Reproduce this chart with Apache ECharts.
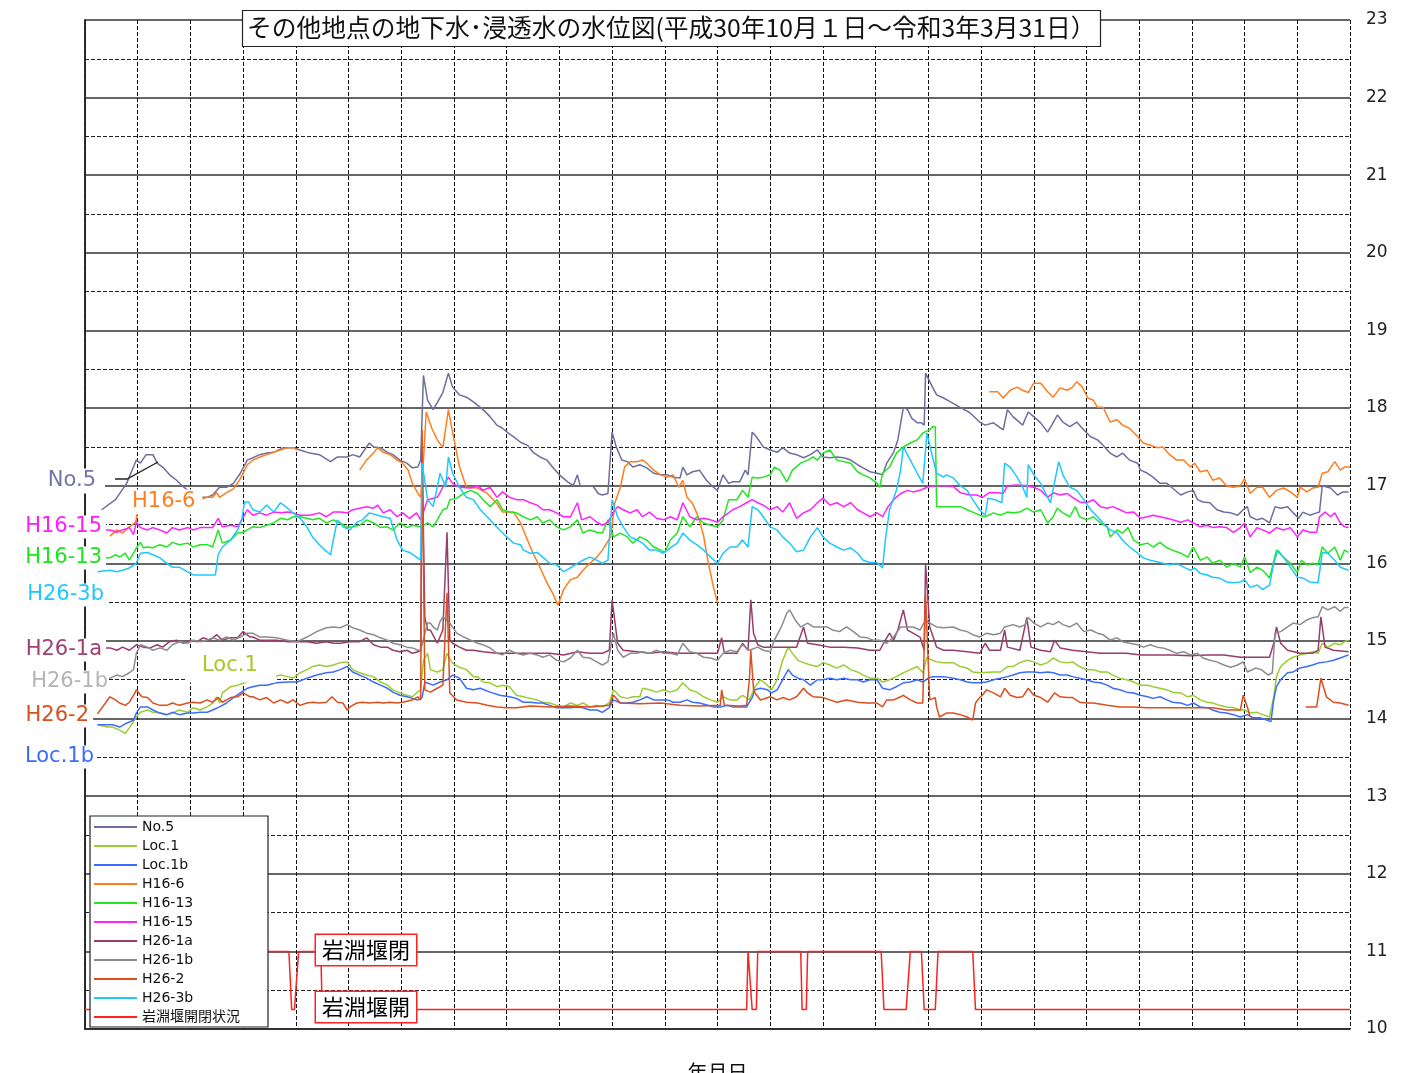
<!DOCTYPE html>
<html>
<head>
<meta charset="utf-8">
<script src="https://cdn.jsdelivr.net/npm/echarts@6/dist/echarts.min.js"></script>
<style>
html,body{margin:0;padding:0;background:#fff;}
#chart{width:1414px;height:1073px;}
</style>
</head>
<body>
<div id="chart"></div>
<script>
// ---- x: days since 2018-10-01 (H30.10.1) ... 912 = 2021-03-31 (R3.3.31) ----
const titleText = 'その他地点の地下水･浸透水の水位図(平成30年10月１日～令和3年3月31日）';
const seriesNames = ['No.5','Loc.1','Loc.1b','H16-6','H16-13','H16-15','H26-1a','H26-1b','H26-2','H26-3b','岩淵堰開閉状況'];
const yTicks = [10,11,12,13,14,15,16,17,18,19,20,21,22,23];

const no5 = [[12,16.69],[22,16.82],[30,17.03],[37,17.33],[40,17.29],[44,17.40],[49,17.40],[52,17.29],[56,17.24],[61,17.14],[66,17.07],[70,17.00],[74,16.94],[78,16.85],[83,16.85],[88,16.85],[92,16.88],[97,16.98],[102,16.98],[107,17.03],[112,17.16],[117,17.33],[121,17.36],[126,17.40],[131,17.42],[136,17.43],[143,17.49],[150,17.49],[155,17.46],[162,17.42],[169,17.40],[177,17.31],[182,17.37],[189,17.37],[193,17.40],[198,17.37],[203,17.50],[205,17.55],[208,17.50],[213,17.49],[218,17.43],[222,17.40],[227,17.33],[232,17.29],[236,17.23],[240,17.24],[242,17.33],[244,18.42],[247,18.10],[251,17.98],[254,18.07],[258,18.20],[262,18.45],[265,18.27],[270,18.17],[275,18.14],[280,18.08],[285,18.01],[287,17.98],[292,17.89],[297,17.78],[301,17.74],[305,17.68],[309,17.63],[314,17.56],[319,17.52],[323,17.43],[328,17.37],[333,17.33],[337,17.24],[342,17.14],[348,17.05],[352,17.00],[355,17.14],[357,17.00],[362,17.00],[366,17.00],[370,16.90],[373,16.88],[377,16.90],[380,17.69],[383,17.50],[387,17.33],[391,17.31],[395,17.24],[400,17.27],[405,17.23],[410,17.16],[415,17.14],[420,17.14],[424,17.11],[429,17.10],[431,17.24],[434,17.14],[438,17.18],[443,17.20],[448,17.07],[453,16.98],[456,16.94],[460,17.14],[464,17.03],[467,17.05],[472,17.05],[476,17.20],[478,17.14],[481,17.69],[484,17.63],[489,17.50],[494,17.46],[499,17.43],[503,17.49],[508,17.42],[513,17.40],[518,17.36],[523,17.40],[528,17.46],[532,17.37],[537,17.36],[542,17.37],[547,17.36],[552,17.33],[557,17.27],[561,17.23],[566,17.18],[571,17.16],[575,17.14],[578,17.29],[583,17.43],[586,17.59],[590,18.01],[593,17.98],[596,17.87],[600,17.81],[603,17.81],[605,17.78],[606,18.45],[611,18.27],[614,18.17],[619,18.13],[624,18.08],[631,18.01],[638,17.94],[645,17.82],[649,17.78],[655,17.81],[662,17.72],[665,17.98],[669,17.89],[676,17.78],[680,17.95],[684,17.89],[689,17.81],[694,17.69],[697,17.78],[701,17.91],[705,17.82],[710,17.76],[715,17.82],[720,17.72],[725,17.63],[730,17.59],[734,17.52],[739,17.42],[744,17.37],[748,17.42],[753,17.33],[759,17.29],[761,17.20],[766,17.16],[770,17.11],[775,17.03],[780,17.03],[784,16.97],[790,16.88],[795,16.92],[799,16.94],[802,16.82],[806,16.79],[811,16.78],[816,16.69],[821,16.66],[826,16.65],[831,16.62],[835,16.69],[838,16.73],[840,16.60],[845,16.56],[849,16.58],[854,16.52],[858,16.73],[862,16.71],[867,16.73],[871,16.65],[875,16.58],[878,16.66],[883,16.62],[888,16.65],[890,16.66],[892,17.00],[898,16.97],[903,16.88],[907,16.92],[911,16.92]];

const loc1 = [[9,13.92],[16,13.89],[20,13.89],[25,13.85],[29,13.81],[32,13.88],[37,14.02],[40,14.08],[45,14.11],[49,14.08],[54,14.07],[59,14.05],[63,14.07],[68,14.11],[74,14.08],[78,14.14],[83,14.11],[88,14.15],[92,14.20],[95,14.28],[97,14.20],[99,14.33],[105,14.41],[110,14.43],[118,14.48],[126,14.54],[131,14.56],[136,14.54],[141,14.56],[146,14.54],[150,14.52],[155,14.59],[160,14.63],[164,14.67],[169,14.69],[174,14.67],[179,14.69],[184,14.72],[189,14.73],[193,14.63],[198,14.59],[203,14.56],[208,14.54],[213,14.47],[218,14.43],[222,14.37],[227,14.33],[232,14.30],[236,14.28],[239,14.33],[242,14.37],[244,14.75],[247,14.84],[249,14.63],[254,14.60],[258,14.63],[261,14.84],[265,14.71],[270,14.66],[275,14.63],[280,14.54],[283,14.54],[287,14.47],[292,14.46],[297,14.41],[301,14.43],[306,14.41],[311,14.30],[316,14.28],[321,14.26],[326,14.24],[330,14.21],[335,14.20],[340,14.17],[345,14.15],[350,14.20],[355,14.17],[359,14.20],[364,14.15],[369,14.17],[373,14.15],[378,14.20],[381,14.37],[386,14.28],[391,14.26],[395,14.28],[400,14.28],[402,14.39],[407,14.37],[412,14.34],[417,14.37],[422,14.34],[427,14.37],[431,14.46],[436,14.37],[441,14.34],[446,14.28],[451,14.24],[456,14.21],[460,14.28],[465,14.24],[470,14.24],[474,14.30],[479,14.24],[483,14.41],[487,14.50],[492,14.43],[495,14.37],[499,14.50],[503,14.75],[507,14.92],[510,14.84],[514,14.75],[518,14.72],[523,14.69],[528,14.67],[532,14.72],[537,14.69],[542,14.65],[547,14.69],[552,14.63],[557,14.60],[561,14.56],[566,14.52],[571,14.52],[575,14.47],[580,14.50],[585,14.54],[590,14.59],[595,14.63],[600,14.67],[604,14.59],[607,14.79],[611,14.75],[614,14.73],[619,14.72],[626,14.72],[631,14.67],[636,14.65],[640,14.60],[645,14.59],[655,14.60],[660,14.60],[665,14.67],[669,14.67],[674,14.72],[679,14.75],[684,14.73],[689,14.69],[694,14.72],[698,14.78],[703,14.73],[708,14.72],[712,14.73],[717,14.67],[722,14.63],[727,14.63],[732,14.60],[737,14.60],[741,14.56],[746,14.52],[751,14.50],[756,14.47],[761,14.43],[766,14.43],[770,14.41],[775,14.39],[780,14.37],[784,14.34],[790,14.33],[795,14.28],[799,14.30],[804,14.24],[809,14.21],[813,14.20],[818,14.17],[823,14.15],[828,14.14],[833,14.11],[836,14.11],[840,14.07],[845,14.08],[849,14.05],[854,14.02],[857,14.28],[859,14.54],[862,14.67],[867,14.75],[871,14.79],[876,14.82],[881,14.84],[885,14.86],[889,14.84],[892,14.97],[896,14.92],[901,14.97],[905,14.95],[908,14.99],[911,15.01]];

const loc1b = [[9,13.92],[16,13.92],[20,13.92],[25,13.89],[30,13.94],[35,13.98],[37,14.07],[40,14.15],[45,14.15],[49,14.11],[54,14.07],[59,14.05],[63,14.08],[68,14.05],[74,14.07],[78,14.07],[83,14.08],[88,14.08],[92,14.11],[97,14.15],[102,14.20],[107,14.27],[112,14.33],[117,14.39],[121,14.41],[126,14.43],[131,14.43],[138,14.46],[146,14.47],[153,14.47],[160,14.52],[167,14.56],[174,14.59],[179,14.60],[184,14.63],[189,14.67],[193,14.60],[198,14.56],[203,14.52],[208,14.47],[213,14.43],[218,14.39],[222,14.34],[227,14.30],[232,14.28],[236,14.26],[240,14.24],[243,14.27],[245,14.47],[251,14.43],[256,14.47],[261,14.50],[265,14.56],[270,14.52],[275,14.39],[280,14.37],[285,14.39],[292,14.34],[299,14.30],[306,14.28],[311,14.26],[316,14.21],[321,14.21],[326,14.20],[330,14.20],[335,14.17],[340,14.14],[345,14.14],[350,14.14],[355,14.15],[359,14.14],[364,14.11],[369,14.11],[373,14.08],[378,14.14],[381,14.24],[386,14.20],[391,14.20],[395,14.21],[400,14.24],[405,14.28],[410,14.24],[415,14.24],[420,14.24],[424,14.21],[429,14.21],[434,14.24],[438,14.21],[443,14.20],[449,14.17],[453,14.15],[458,14.15],[463,14.17],[467,14.15],[472,14.15],[477,14.15],[481,14.27],[483,14.37],[487,14.39],[492,14.37],[495,14.33],[499,14.37],[503,14.50],[507,14.63],[510,14.56],[514,14.52],[518,14.50],[523,14.43],[528,14.50],[532,14.50],[537,14.52],[542,14.50],[547,14.52],[552,14.50],[557,14.50],[561,14.47],[566,14.50],[571,14.50],[575,14.39],[580,14.37],[585,14.41],[590,14.46],[595,14.47],[600,14.50],[604,14.47],[608,14.52],[611,14.54],[619,14.54],[626,14.52],[631,14.50],[636,14.47],[640,14.46],[645,14.46],[650,14.47],[655,14.50],[660,14.52],[665,14.54],[669,14.56],[674,14.59],[679,14.60],[684,14.60],[689,14.59],[694,14.60],[698,14.59],[703,14.56],[708,14.56],[712,14.54],[717,14.52],[722,14.50],[727,14.47],[732,14.46],[737,14.43],[741,14.39],[746,14.37],[751,14.34],[756,14.33],[761,14.30],[766,14.28],[770,14.26],[775,14.28],[780,14.24],[784,14.21],[790,14.20],[795,14.17],[799,14.20],[804,14.15],[809,14.14],[813,14.11],[818,14.08],[823,14.07],[828,14.05],[833,14.02],[838,14.05],[842,14.01],[847,14.01],[852,13.98],[855,13.96],[857,14.24],[859,14.41],[862,14.50],[867,14.59],[871,14.60],[876,14.65],[881,14.67],[885,14.69],[890,14.72],[895,14.73],[900,14.75],[905,14.78],[911,14.82]];

const h16_6 = [[18,16.35],[23,16.43],[27,16.39],[32,16.47],[36,16.52],[37,16.56],[38,16.80],[76,16.82],[78,16.82],[83,16.82],[88,16.85],[92,16.85],[95,16.91],[97,16.85],[102,16.91],[107,16.96],[110,17.04],[112,17.09],[117,17.27],[121,17.33],[126,17.37],[131,17.40],[136,17.43],[141,17.46],[146,17.49],[150,17.49],[153,17.46],[175,null],[198,17.20],[203,17.33],[208,17.42],[211,17.49],[215,17.43],[220,17.40],[225,17.33],[229,17.29],[233,17.20],[236,17.03],[240,16.90],[242,16.85],[244,17.33],[246,17.95],[250,17.74],[254,17.59],[258,17.49],[262,17.98],[265,17.69],[270,17.24],[275,16.98],[283,16.97],[290,16.90],[297,16.77],[301,16.66],[309,16.66],[314,16.52],[319,16.30],[323,16.13],[328,15.95],[333,15.75],[337,15.62],[341,15.46],[345,15.66],[350,15.79],[355,15.82],[359,15.91],[364,16.00],[369,16.08],[373,16.17],[379,16.34],[382,16.78],[386,16.98],[389,17.24],[393,17.31],[398,17.31],[402,17.33],[405,17.29],[410,17.20],[415,17.14],[420,17.11],[424,17.14],[428,16.98],[431,17.07],[434,16.85],[438,16.77],[441,16.65],[443,16.56],[446,16.35],[449,16.04],[453,15.70],[456,15.49],[550,null],[652,18.21],[658,18.21],[662,18.13],[667,18.23],[672,18.27],[676,18.23],[680,18.20],[684,18.32],[689,18.32],[694,18.21],[698,18.14],[703,18.26],[708,18.23],[712,18.27],[715,18.34],[719,18.27],[723,18.13],[727,18.10],[730,18.01],[734,18.01],[739,17.82],[744,17.85],[748,17.78],[753,17.74],[759,17.63],[763,17.55],[768,17.52],[773,17.49],[777,17.50],[782,17.40],[787,17.33],[792,17.33],[797,17.24],[800,17.29],[804,17.18],[809,17.20],[813,17.07],[818,17.10],[823,17.00],[828,16.98],[833,17.00],[836,17.09],[840,16.90],[845,16.98],[849,16.98],[854,16.85],[859,16.94],[864,16.97],[869,16.92],[874,16.85],[876,16.98],[881,16.92],[885,16.97],[889,16.98],[892,17.16],[896,17.18],[901,17.31],[905,17.20],[908,17.24],[912,17.24]];

const h16_13 = [[11,16.07],[18,16.07],[22,16.11],[25,16.08],[29,16.13],[32,16.04],[35,16.13],[37,16.20],[40,16.27],[42,16.20],[45,16.21],[49,16.20],[54,16.24],[59,16.21],[63,16.27],[68,16.24],[74,16.26],[78,16.21],[83,16.24],[88,16.24],[92,16.21],[96,16.43],[99,16.26],[105,16.30],[110,16.39],[114,16.40],[117,16.43],[121,16.47],[126,16.46],[131,16.49],[136,16.52],[141,16.58],[146,16.56],[150,16.60],[155,16.60],[160,16.58],[164,16.56],[169,16.58],[174,16.52],[179,16.56],[184,16.52],[189,16.46],[193,16.47],[198,16.49],[203,16.56],[208,16.52],[213,16.46],[218,16.47],[222,16.43],[227,16.52],[232,16.46],[236,16.49],[242,16.47],[247,16.52],[251,16.47],[254,16.56],[258,16.69],[261,16.71],[263,16.82],[268,16.84],[273,16.90],[278,16.94],[283,16.90],[287,16.82],[292,16.73],[297,16.82],[301,16.69],[306,16.66],[311,16.65],[316,16.60],[321,16.56],[326,16.60],[330,16.52],[335,16.56],[340,16.47],[345,16.43],[350,16.47],[355,16.56],[359,16.39],[364,16.43],[369,16.40],[373,16.39],[377,16.56],[381,16.34],[386,16.39],[391,16.34],[395,16.26],[400,16.34],[405,16.30],[410,16.21],[415,16.17],[418,16.14],[422,16.30],[427,16.39],[431,16.60],[436,16.47],[441,16.60],[446,16.52],[451,16.49],[456,16.47],[460,16.56],[464,16.82],[470,16.82],[474,16.94],[478,16.85],[481,17.11],[485,17.10],[489,17.11],[494,17.14],[497,17.24],[501,17.20],[506,17.05],[510,17.20],[516,17.29],[521,17.33],[525,17.37],[528,17.33],[532,17.42],[537,17.46],[542,17.33],[547,17.31],[552,17.29],[557,17.18],[561,17.14],[566,17.10],[571,17.03],[573,16.98],[575,17.16],[580,17.24],[585,17.42],[590,17.50],[595,17.55],[600,17.59],[604,17.68],[609,17.72],[611,17.76],[613,17.76],[614,16.73],[619,16.73],[624,16.73],[631,16.73],[636,16.69],[640,16.66],[645,16.62],[649,16.60],[655,16.65],[660,16.62],[665,16.66],[669,16.65],[674,16.66],[679,16.71],[684,16.66],[689,16.69],[694,16.52],[698,16.60],[701,16.71],[705,16.65],[710,16.60],[714,16.73],[717,16.60],[722,16.56],[727,16.60],[732,16.52],[737,16.47],[739,16.34],[744,16.43],[748,16.39],[752,16.46],[756,16.30],[761,16.24],[766,16.26],[770,16.21],[775,16.27],[780,16.20],[784,16.17],[790,16.13],[795,16.08],[799,16.21],[804,16.04],[809,16.08],[813,16.00],[818,16.04],[823,15.95],[828,16.00],[833,15.95],[836,16.08],[840,15.88],[845,15.95],[849,15.91],[854,15.81],[859,16.17],[864,16.08],[869,16.00],[874,15.88],[877,16.04],[881,15.98],[885,16.00],[889,15.98],[892,16.21],[896,16.13],[901,16.21],[905,16.04],[908,16.17],[911,16.14]];

const h16_15 = [[11,16.43],[18,16.43],[23,16.40],[27,16.43],[32,16.46],[35,16.37],[37,16.53],[40,16.46],[45,16.43],[49,16.46],[54,16.43],[59,16.39],[63,16.46],[68,16.43],[74,16.46],[78,16.43],[83,16.46],[88,16.46],[92,16.46],[96,16.58],[99,16.47],[105,16.49],[110,16.47],[113,16.56],[117,16.69],[121,16.62],[126,16.65],[131,16.62],[136,16.66],[141,16.65],[146,16.66],[150,16.65],[155,16.62],[162,16.62],[169,16.65],[174,16.60],[179,16.66],[184,16.66],[189,16.65],[193,16.69],[198,16.71],[203,16.73],[208,16.71],[211,16.75],[215,16.65],[220,16.69],[225,16.60],[229,16.65],[234,16.58],[239,16.65],[242,16.56],[247,16.82],[254,16.85],[258,16.98],[262,17.11],[265,17.03],[270,16.98],[278,16.97],[283,17.00],[287,16.94],[292,16.98],[297,16.85],[301,16.92],[306,16.85],[311,16.82],[316,16.82],[321,16.78],[326,16.75],[330,16.69],[335,16.69],[340,16.65],[345,16.60],[350,16.60],[355,16.78],[358,16.56],[364,16.60],[369,16.53],[373,16.49],[377,16.53],[381,16.66],[384,16.73],[388,16.69],[393,16.65],[398,16.69],[402,16.60],[407,16.66],[412,16.58],[417,16.56],[422,16.60],[427,16.56],[431,16.78],[436,16.60],[441,16.56],[446,16.58],[451,16.56],[456,16.53],[460,16.60],[464,16.65],[467,16.69],[472,16.73],[477,16.78],[481,16.82],[485,16.78],[489,16.75],[494,16.69],[499,16.73],[503,16.66],[508,16.78],[513,16.58],[518,16.65],[523,16.69],[528,16.78],[532,16.84],[537,16.75],[542,16.78],[547,16.73],[552,16.78],[557,16.69],[561,16.65],[566,16.60],[571,16.65],[575,16.60],[579,16.73],[583,16.82],[588,16.90],[593,16.94],[597,16.92],[602,16.94],[607,16.98],[611,17.00],[619,17.00],[626,16.99],[631,16.91],[638,16.88],[643,16.88],[647,16.85],[652,16.91],[658,16.91],[662,16.90],[665,17.00],[672,17.01],[679,17.00],[684,16.98],[689,16.94],[694,16.85],[698,16.91],[703,16.88],[708,16.90],[712,16.85],[717,16.79],[722,16.78],[727,16.82],[732,16.73],[737,16.71],[741,16.73],[746,16.69],[751,16.65],[756,16.66],[761,16.58],[766,16.60],[770,16.62],[775,16.60],[780,16.58],[784,16.56],[790,16.53],[795,16.56],[799,16.52],[804,16.47],[809,16.49],[813,16.46],[818,16.47],[823,16.46],[828,16.40],[833,16.46],[836,16.52],[840,16.34],[845,16.46],[849,16.43],[854,16.39],[859,16.46],[864,16.43],[869,16.46],[874,16.34],[878,16.43],[883,16.40],[888,16.40],[890,16.60],[894,16.66],[898,16.60],[901,16.65],[905,16.52],[908,16.47],[911,16.46]];

const h26_1a = [[9,14.91],[18,14.91],[23,14.88],[27,14.92],[32,14.88],[37,14.95],[42,14.92],[47,14.91],[52,14.95],[56,14.92],[61,14.99],[66,15.01],[71,14.97],[76,15.01],[81,14.99],[85,15.04],[90,15.01],[95,15.08],[99,15.01],[105,15.04],[110,15.04],[114,15.12],[119,15.05],[121,15.05],[126,15.01],[131,15.01],[138,15.01],[146,14.99],[153,14.99],[160,14.99],[167,14.97],[174,14.99],[179,14.97],[184,14.97],[191,14.99],[198,14.99],[203,15.04],[208,14.95],[213,14.92],[218,14.92],[222,14.88],[227,14.86],[232,14.88],[236,14.84],[240,14.86],[242,14.88],[243,17.50],[245,15.30],[247,15.14],[249,15.14],[254,14.97],[258,15.14],[261,16.40],[263,15.01],[265,14.97],[270,14.92],[275,14.88],[280,14.88],[287,14.86],[297,14.84],[306,14.84],[316,14.84],[326,14.84],[335,14.84],[345,14.82],[355,14.86],[364,14.84],[373,14.84],[378,14.88],[380,15.53],[384,14.97],[388,14.88],[398,14.86],[407,14.84],[417,14.86],[427,14.84],[436,14.84],[446,14.84],[456,14.84],[459,15.04],[461,14.84],[470,14.84],[474,14.97],[478,14.88],[480,15.53],[482,15.10],[485,14.95],[489,14.92],[494,14.92],[503,14.92],[513,14.92],[518,15.18],[521,14.97],[528,14.95],[537,14.92],[547,14.92],[557,14.91],[566,14.88],[573,14.88],[577,15.01],[580,15.10],[583,15.01],[586,15.14],[590,15.40],[593,15.14],[597,15.10],[602,15.05],[605,14.88],[606,16.00],[609,15.18],[614,14.92],[619,14.88],[626,14.88],[636,14.86],[645,14.84],[649,14.97],[652,14.88],[660,14.88],[663,15.14],[665,14.92],[674,14.88],[679,15.30],[682,14.92],[689,14.88],[696,14.86],[699,15.01],[703,14.91],[712,14.88],[722,14.86],[732,14.84],[741,14.84],[751,14.84],[761,14.82],[773,14.82],[784,14.82],[797,14.81],[809,14.82],[821,14.82],[833,14.79],[845,14.79],[854,14.79],[857,14.97],[859,15.18],[862,14.97],[867,14.88],[876,14.84],[885,14.84],[889,14.88],[891,15.31],[894,14.92],[900,14.88],[911,14.86]];

const h26_1b = [[9,14.50],[18,14.52],[23,14.56],[27,14.54],[32,14.59],[35,14.63],[37,14.84],[40,14.95],[45,14.92],[49,14.88],[54,14.91],[59,14.88],[63,14.95],[68,14.99],[74,14.97],[78,15.01],[83,14.99],[88,15.01],[92,15.04],[97,15.01],[102,15.05],[107,15.01],[112,15.05],[117,15.10],[121,15.10],[126,15.05],[131,15.05],[138,15.04],[146,15.01],[153,14.99],[160,15.05],[167,15.12],[174,15.17],[179,15.18],[184,15.17],[189,15.21],[193,15.17],[198,15.14],[203,15.10],[208,15.08],[213,15.04],[218,15.01],[222,14.97],[227,14.95],[232,14.92],[236,14.91],[240,14.88],[242,14.88],[247,15.23],[249,15.23],[251,15.18],[254,15.14],[256,15.25],[258,15.31],[263,15.23],[268,15.10],[273,15.05],[278,15.01],[283,14.97],[287,14.95],[292,14.91],[297,14.84],[301,14.82],[306,14.88],[311,14.84],[316,14.82],[321,14.84],[326,14.82],[330,14.79],[335,14.82],[340,14.75],[345,14.73],[350,14.78],[355,14.88],[359,14.79],[364,14.78],[369,14.73],[373,14.69],[377,14.73],[381,15.10],[384,14.88],[388,14.79],[393,14.84],[398,14.84],[402,14.86],[407,14.84],[412,14.88],[417,14.84],[422,14.84],[427,14.82],[431,14.97],[436,14.86],[441,14.84],[446,14.79],[451,14.78],[456,14.75],[460,14.84],[465,14.88],[470,14.86],[474,14.95],[479,14.88],[485,14.92],[489,14.88],[494,14.86],[497,15.01],[502,15.18],[506,15.36],[508,15.40],[512,15.27],[516,15.18],[521,15.23],[525,15.18],[530,15.18],[535,15.18],[539,15.14],[544,15.12],[549,15.18],[554,15.12],[559,15.05],[564,15.04],[568,15.01],[573,15.01],[578,14.97],[583,15.05],[588,15.18],[593,15.18],[597,15.18],[602,15.14],[606,15.27],[609,15.23],[614,15.18],[619,15.17],[626,15.18],[631,15.14],[636,15.12],[640,15.08],[645,15.05],[650,15.10],[655,15.08],[660,15.10],[663,15.18],[669,15.21],[674,15.18],[678,15.21],[680,15.30],[684,15.23],[689,15.18],[694,15.23],[698,15.21],[702,15.25],[705,15.21],[710,15.18],[715,15.23],[720,15.12],[725,15.14],[730,15.10],[734,15.08],[739,15.01],[744,15.04],[748,14.99],[753,14.97],[759,14.95],[763,14.92],[768,14.95],[773,14.92],[777,14.91],[782,14.88],[787,14.84],[792,14.86],[797,14.82],[802,14.84],[806,14.78],[811,14.75],[816,14.73],[821,14.69],[826,14.66],[831,14.69],[835,14.73],[838,14.60],[844,14.65],[848,14.63],[853,14.56],[856,14.59],[858,15.10],[862,15.12],[867,15.18],[871,15.23],[876,15.21],[881,15.27],[885,15.30],[889,15.31],[892,15.44],[896,15.40],[901,15.44],[905,15.38],[908,15.43],[911,15.43]];

const h26_2 = [[9,14.06],[18,14.28],[22,14.24],[25,14.20],[29,14.17],[32,14.21],[36,14.33],[37,14.37],[41,14.28],[45,14.27],[49,14.20],[54,14.17],[59,14.17],[63,14.20],[68,14.17],[74,14.20],[78,14.21],[83,14.20],[88,14.24],[92,14.21],[96,14.27],[99,14.21],[105,14.27],[110,14.28],[114,14.33],[119,14.28],[121,14.28],[126,14.24],[131,14.27],[136,14.20],[141,14.24],[146,14.20],[150,14.24],[155,14.17],[160,14.20],[164,14.21],[169,14.20],[174,14.21],[178,14.28],[182,14.21],[186,14.20],[189,14.11],[191,14.15],[196,14.20],[200,14.21],[205,14.20],[211,14.21],[215,14.20],[220,14.21],[225,14.20],[229,14.21],[236,14.24],[240,14.28],[242,14.24],[243,17.72],[245,14.37],[249,14.34],[254,14.39],[258,14.43],[261,15.62],[263,14.33],[268,14.24],[275,14.21],[283,14.20],[290,14.17],[297,14.15],[304,14.14],[311,14.14],[321,14.16],[335,14.15],[350,14.16],[364,14.15],[378,14.17],[381,14.30],[386,14.20],[400,14.19],[415,14.20],[429,14.17],[443,14.16],[458,14.17],[459,14.37],[461,14.17],[472,14.16],[477,14.17],[479,14.50],[480,14.88],[482,14.37],[483,14.33],[487,14.24],[494,14.28],[499,14.24],[503,14.27],[508,14.24],[513,14.28],[518,14.39],[521,14.33],[525,14.28],[532,14.27],[537,14.24],[542,14.21],[549,14.24],[557,14.21],[564,14.20],[571,14.20],[575,14.15],[578,14.24],[583,14.24],[588,14.28],[590,14.30],[595,14.24],[600,14.20],[604,14.20],[606,15.60],[609,14.24],[613,14.27],[614,14.15],[616,14.02],[621,14.07],[626,14.07],[631,14.05],[636,14.02],[640,13.98],[642,14.20],[645,14.27],[647,14.30],[650,14.37],[655,14.33],[660,14.28],[663,14.39],[667,14.30],[672,14.27],[676,14.28],[680,14.39],[684,14.30],[689,14.27],[694,14.21],[699,14.33],[703,14.28],[708,14.27],[712,14.27],[717,14.21],[722,14.20],[727,14.20],[737,14.17],[746,14.15],[756,14.15],[766,14.14],[775,14.14],[784,14.14],[795,14.14],[804,14.14],[813,14.14],[823,14.11],[833,14.11],[835,14.30],[838,14.15],[840,14.02],[860,null],[880,14.15],[888,14.15],[891,14.52],[895,14.28],[900,14.21],[905,14.20],[911,14.17]];

const h26_3b = [[9,15.89],[18,15.91],[23,15.89],[27,15.91],[32,15.94],[37,16.00],[40,16.13],[45,16.14],[49,16.11],[54,16.07],[59,16.00],[63,15.95],[68,15.95],[74,15.89],[78,15.85],[83,15.85],[88,15.85],[94,15.85],[96,16.11],[99,16.21],[105,16.30],[110,16.43],[113,16.56],[115,16.79],[118,16.79],[121,16.69],[126,16.66],[131,16.75],[136,16.66],[141,16.78],[146,16.71],[150,16.65],[155,16.58],[160,16.47],[164,16.34],[169,16.24],[173,16.17],[177,16.11],[179,16.30],[182,16.56],[186,16.47],[191,16.43],[196,16.53],[200,16.56],[205,16.65],[211,16.62],[215,16.60],[220,16.58],[225,16.30],[229,16.17],[234,16.14],[239,16.08],[242,16.04],[243,17.29],[247,16.82],[251,16.73],[256,17.16],[260,16.98],[262,17.37],[265,17.16],[270,16.98],[275,16.85],[280,16.82],[285,16.69],[290,16.60],[294,16.52],[299,16.43],[304,16.34],[309,16.26],[314,16.24],[316,16.17],[321,16.13],[326,16.14],[330,16.08],[335,16.00],[340,15.98],[345,15.89],[350,15.94],[355,16.00],[359,16.04],[364,16.08],[369,16.04],[373,16.00],[377,16.04],[380,16.82],[384,16.60],[388,16.47],[393,16.34],[398,16.30],[402,16.26],[407,16.17],[412,16.17],[417,16.13],[422,16.20],[427,16.26],[431,16.39],[436,16.30],[441,16.24],[446,16.17],[451,16.08],[456,16.00],[460,16.13],[465,16.21],[470,16.21],[474,16.30],[478,16.21],[481,16.73],[485,16.69],[489,16.60],[494,16.47],[499,16.43],[503,16.34],[508,16.26],[513,16.15],[518,16.17],[523,16.34],[528,16.46],[532,16.34],[537,16.26],[542,16.21],[547,16.17],[552,16.20],[557,16.13],[561,16.04],[566,16.01],[571,16.01],[575,15.94],[577,16.30],[580,16.69],[585,16.94],[588,17.20],[590,17.50],[595,17.33],[600,17.16],[604,17.03],[607,17.68],[611,17.37],[614,17.16],[619,17.11],[621,17.14],[626,17.10],[631,17.00],[636,16.94],[640,16.82],[645,16.69],[649,16.62],[651,16.84],[656,16.82],[661,16.78],[663,17.29],[667,17.24],[672,17.11],[676,16.98],[679,16.85],[680,17.27],[684,17.14],[689,17.03],[694,16.85],[696,16.78],[702,17.31],[705,17.14],[710,16.98],[715,16.94],[720,16.82],[725,16.69],[730,16.60],[734,16.52],[739,16.43],[744,16.39],[748,16.30],[753,16.21],[759,16.13],[763,16.07],[768,16.04],[775,16.01],[782,15.98],[787,16.00],[792,15.95],[797,15.91],[800,15.94],[804,15.87],[809,15.85],[813,15.82],[818,15.81],[823,15.76],[828,15.75],[833,15.76],[836,15.79],[840,15.69],[845,15.72],[849,15.66],[854,15.72],[857,16.00],[860,16.17],[864,16.08],[869,15.95],[874,15.82],[878,15.81],[883,15.76],[889,15.75],[892,16.14],[896,16.13],[901,16.04],[905,15.95],[911,15.91]];

const weirStatus = [[0,10.25],[7,10.25],[8,11],[147,11],[149,10.25],[151,10.25],[154,11],[170,11],[171,10.25],[477,10.25],[478,11],[479,11],[481,10.25],[484,10.25],[485,11],[516,11],[517,10.25],[520,10.25],[521,11],[574,11],[576,10.25],[592,10.25],[595,11],[603,11],[605,10.25],[613,10.25],[615,11],[640,11],[642,10.25],[912,10.25]];

const seriesData = [no5, loc1, loc1b, h16_6, h16_13, h16_15, h26_1a, h26_1b, h26_2, h26_3b, weirStatus];
const seriesColors = ['#6e6e9e','#9acd32','#3b6cff','#ff7d1e','#22e622','#ff22ff','#983c6c','#8c8c8c','#dc4e1e','#1ec8ff','#ff2020'];

// side labels: [text, color]
const sideLabels = [
  ['No.5','#7676a6'],['H16-6','#ff7d1e'],['H16-15','#ff1aff'],['H16-13','#1ae61a'],['H26-3b','#1ec8ff'],
  ['H26-1a','#a0406e'],['Loc.1','#a8c828'],['H26-1b','#b4b4b4'],['H26-2','#dc4e1e'],['Loc.1b','#3b6cff']
];
// layout of side labels (pixels): x, y, align, padding
const sideLayout = [
  [105,481,'right',[2,9,2,4]],
  [126,502,'left',[2,7,2,6]],
  [106,527,'right',[1,4,1,3]],
  [106,558,'right',[1,4,1,3]],
  [107,595,'right',[1,3,1,3]],
  [106,650,'right',[1,4,1,3]],
  [187,666,'left',[4,18,8,15]],
  [109,682,'right',[1,1,1,3]],
  [93,716,'right',[1,4,1,3]],
  [97,757,'right',[1,3,1,3]]
];

const chart = echarts.init(document.getElementById('chart'), null, {renderer:'canvas'});

const series = seriesNames.map((name, i) => ({
  name: name,
  type: 'line',
  xAxisIndex: 0,
  yAxisIndex: 0,
  symbol: 'none',
  connectNulls: false,
  data: seriesData[i].map(p => [p[0], p[1] === null ? '-' : p[1]]),
  lineStyle: {color: seriesColors[i], width: 1.5},
  itemStyle: {color: seriesColors[i]},
  z: 2,
  animation: false
}));

const graphics = [];
sideLabels.forEach((l, i) => {
  const lay = sideLayout[i];
  graphics.push({
    type: 'text', x: lay[0], y: lay[1], z: 100,
    style: {
      text: l[0], fill: l[1], font: '21px "DejaVu Sans"',
      align: lay[2], verticalAlign: 'middle',
      backgroundColor: '#fff', padding: lay[3]
    }
  });
});
graphics.push({
  type: 'polyline', z: 101,
  shape: {points: [[115,479],[127,479],[158,462]]},
  style: {stroke: '#222', lineWidth: 1.3, fill: null}
});
graphics.push({
  type: 'text', x: 316, y: 935, z: 100,
  style: {text: '岩淵堰閉', fill: '#000', font: '22px "Noto Sans CJK JP"',
    backgroundColor: '#fff', borderColor: '#ff2020', borderWidth: 1.5, padding: [4,6,4,6]}
});
graphics.push({
  type: 'text', x: 316, y: 992, z: 100,
  style: {text: '岩淵堰開', fill: '#000', font: '22px "Noto Sans CJK JP"',
    backgroundColor: '#fff', borderColor: '#ff2020', borderWidth: 1.5, padding: [4,6,4,6]}
});

chart.setOption({
  animation: false,
  backgroundColor: '#fff',
  title: {
    text: titleText,
    left: 242, top: 10,
    padding: [4, 5, 5, 5],
    borderColor: '#222', borderWidth: 1.2,
    backgroundColor: '#fff',
    textStyle: {fontFamily: '"Noto Sans CJK JP"', fontSize: 24.75, fontWeight: 'normal', color: '#111', lineHeight: 28}
  },
  legend: {
    data: seriesNames,
    orient: 'vertical',
    left: 90, top: 816,
    padding: [4, 4, 3, 4],
    icon: 'rect',
    itemWidth: 43, itemHeight: 2, itemGap: 5,
    borderColor: '#222', borderWidth: 1.2,
    backgroundColor: '#fff',
    selectedMode: false,
    textStyle: {fontFamily: '"DejaVu Sans","Noto Sans CJK JP"', fontSize: 14, color: '#111', lineHeight: 14, width: 122}
  },
  grid: {left: 85, right: 64, top: 20, bottom: 44, containLabel: false, outerBoundsMode: 'none'},
  xAxis: {
    type: 'value', min: 0, max: 912, interval: 38,
    name: '年月日', nameLocation: 'middle', nameGap: 33,
    nameTextStyle: {fontFamily: '"Noto Sans CJK JP"', fontSize: 20, color: '#111'},
    axisLine: {show: true, lineStyle: {color: '#222', width: 1.5}},
    axisTick: {show: false},
    axisLabel: {show: false},
    splitLine: {show: true, lineStyle: {color: '#111', width: 1, type: [4, 2]}}
  },
  yAxis: [{
    type: 'value', min: 10, max: 23, interval: 1, position: 'right',
    axisLine: {show: true, lineStyle: {color: '#222', width: 1.5}},
    axisTick: {show: false},
    axisLabel: {show: true, margin: 16, color: '#222', fontSize: 17, fontFamily: '"DejaVu Sans"',
      formatter: v => (yTicks.indexOf(v) >= 0 ? String(v) : '')},
    splitLine: {show: true, lineStyle: {color: '#333', width: 1.5}},
    minorTick: {show: false, splitNumber: 2},
    minorSplitLine: {show: true, lineStyle: {color: '#222', width: 1, type: [4, 2]}}
  }, {
    type: 'value', min: 10, max: 23, interval: 1, position: 'left',
    axisLine: {show: true, onZero: false, lineStyle: {color: '#222', width: 1.5}},
    axisTick: {show: false}, axisLabel: {show: false}, splitLine: {show: false}
  }],
  graphic: graphics,
  series: series
});
</script>
</body>
</html>
